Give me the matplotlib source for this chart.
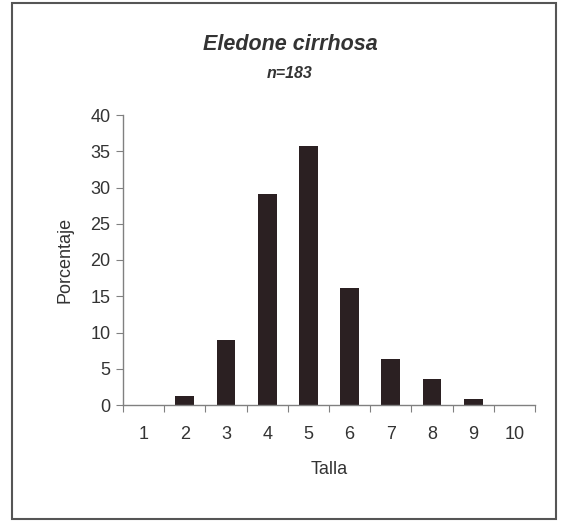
import numpy as np
import matplotlib.pyplot as plt
from matplotlib.patches import Rectangle

tallas = [1, 2, 3, 4, 5, 6, 7, 8, 9, 10]
porcentaje = [0, 1.2, 9.0, 29.1, 35.7, 16.1, 6.3, 3.6, 0.8, 0]

plt.rcParams['font.family'] = ['Liberation Sans', 'DejaVu Sans']

fig = plt.figure(figsize=(5.62, 5.23), dpi=100)
ax = fig.add_axes([123 / 562, 118 / 523, 412 / 562, 290 / 523])

ax.bar(tallas, porcentaje, width=0.46, color='#2b2022')

ax.set_xlim(0.5, 10.5)
ax.set_ylim(0, 40)
ax.set_yticks(np.arange(0, 41, 5))
ax.set_xticks(np.arange(0.5, 11, 1))
ax.set_xticklabels([])
ax.set_xticks(tallas, minor=True)
ax.set_xticklabels([str(t) for t in tallas], minor=True)
ax.tick_params(axis='x', which='minor', length=0, pad=15, labelsize=13, labelcolor='#333333')
ax.tick_params(axis='x', which='major', length=5, direction='out', color='#808080')
ax.tick_params(axis='y', length=5, direction='out', color='#808080', labelsize=13,
               labelcolor='#333333', pad=4)

for s in ['top', 'right']:
    ax.spines[s].set_visible(False)
for s in ['left', 'bottom']:
    ax.spines[s].set_color('#808080')
    ax.spines[s].set_linewidth(1)

ax.set_xlabel('Talla', fontsize=13, color='#333333', labelpad=13)
ax.set_ylabel('Porcentaje', fontsize=13, color='#333333', labelpad=12)

fig.text(290 / 562, 1 - 45 / 523, 'Eledone cirrhosa', ha='center', va='center',
         fontsize=15.5, fontweight='bold', fontstyle='italic', color='#333333')
fig.text(290 / 562, 1 - 73 / 523, 'n=183', ha='center', va='center',
         fontsize=11.5, fontweight='bold', fontstyle='italic', color='#333333')

fig.add_artist(Rectangle((12 / 562, 4 / 523), 544 / 562, 516 / 523, transform=fig.transFigure,
                         fill=False, edgecolor='#555555', linewidth=1.5))

fig.savefig('out.png', dpi=100)
